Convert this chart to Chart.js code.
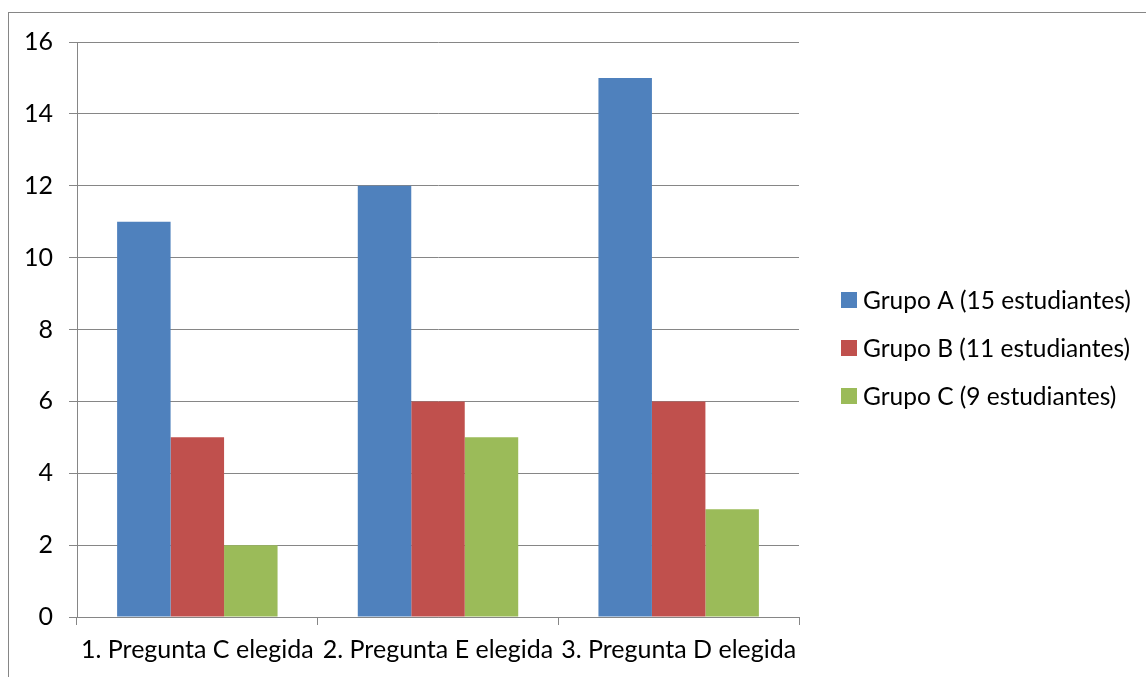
<!DOCTYPE html>
<html>
<head>
<meta charset="utf-8">
<script src="https://cdn.jsdelivr.net/npm/chart.js@4.4.1/dist/chart.umd.min.js"></script>
<style>
    html, body { margin: 0; padding: 0; background: #fff; }
    #wrap { position: relative; width: 1146px; height: 677px; overflow: hidden; }
    #frame {
        position: absolute; left: 8px; top: 12px; width: 1200px; height: 700px;
        border: 1px solid #868686; box-sizing: border-box;
    }
    #chart { position: absolute; left: 0; top: 0; }
</style>
</head>
<body>
<div id="wrap">
    <div id="frame"></div>
    <canvas id="chart" width="1146" height="677"></canvas>
</div>
<script>
// datos
const categories = ['1. Pregunta C elegida', '2. Pregunta E elegida', '3. Pregunta D elegida']
const seriesNames = ['Grupo A (15 estudiantes)', 'Grupo B (11 estudiantes)', 'Grupo C (9 estudiantes)']
const grupoA = [11, 12, 15]
const grupoB = [5, 6, 6]
const grupoC = [2, 5, 3]
const colors = ['#4F81BD', '#C0504D', '#9BBB59']

const FONT = 'Lato, "Liberation Sans", sans-serif'
const FONT_SIZE = 25

// leyenda dibujada a mano a la derecha del area
const sideLegend = {
    id: 'sideLegend',
    afterDraw(chart) {
        const ctx = chart.ctx
        const x = chart.chartArea.right + 42
        const y0 = 300
        const step = 48
        ctx.save()
        ctx.font = '24.5px ' + FONT
        ctx.textBaseline = 'middle'
        chart.data.datasets.forEach((ds, i) => {
            const y = y0 + i * step
            ctx.fillStyle = ds.backgroundColor
            ctx.fillRect(x, y - 8, 16, 16)
            ctx.fillStyle = '#000'
            ctx.fillText(ds.label, x + 22, y + 1)
        })
        ctx.restore()
    }
}

new Chart(document.getElementById('chart'), {
    type: 'bar',
    data: {
        labels: categories,
        datasets: [
            { label: seriesNames[0], data: grupoA, backgroundColor: colors[0] },
            { label: seriesNames[1], data: grupoB, backgroundColor: colors[1] },
            { label: seriesNames[2], data: grupoC, backgroundColor: colors[2] }
        ]
    },
    options: {
        responsive: false,
        animation: false,
        devicePixelRatio: 1,
        layout: { padding: { left: 0, top: 42, right: 347, bottom: 0 } },
        datasets: {
            bar: { categoryPercentage: 3 / 4.5, barPercentage: 1, borderWidth: 0 }
        },
        plugins: {
            legend: { display: false },
            tooltip: { enabled: false }
        },
        scales: {
            x: {
                afterFit: (s) => { s.height = 60 },
                grid: {
                    offset: true,
                    drawOnChartArea: false,
                    drawTicks: true,
                    tickLength: 8,
                    color: '#868686',
                    lineWidth: 1
                },
                border: { color: '#868686', width: 1 },
                ticks: {
                    color: '#000',
                    padding: 10,
                    maxRotation: 0,
                    autoSkip: false,
                    font: { family: FONT, size: FONT_SIZE }
                }
            },
            y: {
                min: 0,
                max: 16,
                afterFit: (s) => { s.width = 77 },
                grid: {
                    color: '#868686',
                    lineWidth: 1,
                    tickLength: 8
                },
                border: { color: '#868686', width: 1 },
                ticks: {
                    stepSize: 2,
                    color: '#000',
                    padding: 16,
                    font: { family: FONT, size: FONT_SIZE }
                }
            }
        }
    },
    plugins: [sideLegend]
})
</script>
</body>
</html>
